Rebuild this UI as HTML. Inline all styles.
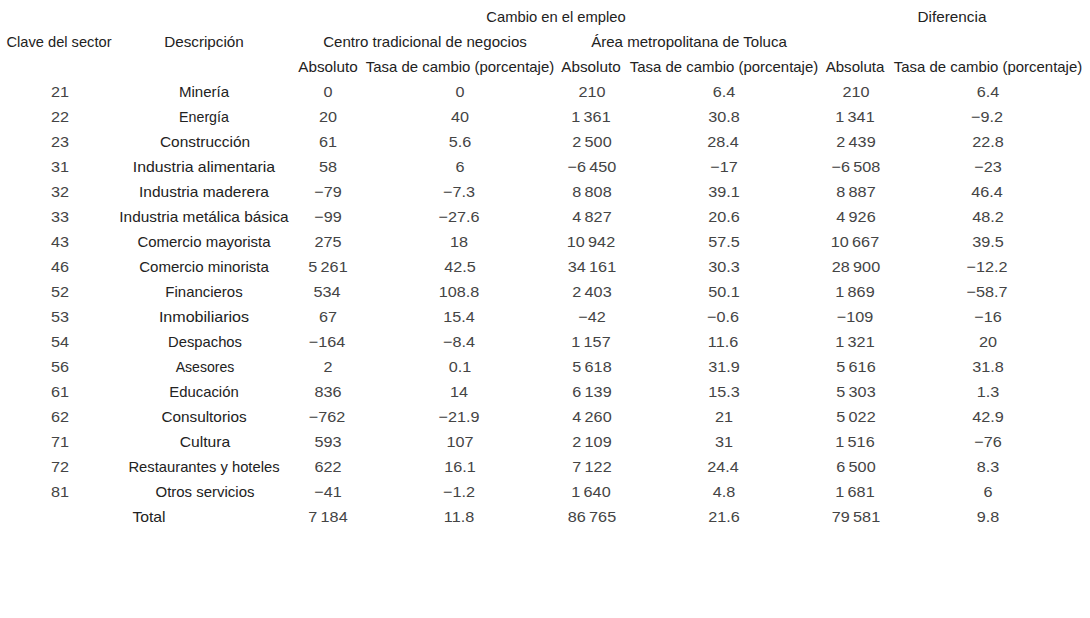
<!DOCTYPE html>
<html><head><meta charset="utf-8"><style>
html,body{margin:0;padding:0;background:#fff;width:1090px;height:618px;overflow:hidden}
body{position:relative;font-family:"Liberation Sans",sans-serif;font-size:15.0px;color:#222}
.n{color:#444}
div{position:absolute;width:500px;text-align:center;line-height:20px;white-space:nowrap;transform-origin:250px 50%}
</style></head><body>
<div style="left:306.36px;top:7px;transform:scaleX(0.9837)">Cambio en el empleo</div>
<div style="left:702.34px;top:7px;transform:scaleX(1.0194)">Diferencia</div>
<div style="left:-190.54px;top:32px;transform:scaleX(0.9766)">Clave del sector</div>
<div style="left:-45.71px;top:32px;transform:scaleX(1.0169)">Descripción</div>
<div style="left:175.10px;top:32px;transform:scaleX(1.0050)">Centro tradicional de negocios</div>
<div style="left:439.40px;top:32px;transform:scaleX(1.0041)">Área metropolitana de Toluca</div>
<div style="left:77.50px;top:57px;transform:scaleX(1.0172)">Absoluto</div>
<div style="left:210.05px;top:57px;transform:scaleX(0.9952)">Tasa de cambio (porcentaje)</div>
<div style="left:341.45px;top:57px;transform:scaleX(1.0172)">Absoluto</div>
<div style="left:474.05px;top:57px;transform:scaleX(0.9952)">Tasa de cambio (porcentaje)</div>
<div style="left:605.35px;top:57px;transform:scaleX(1.0052)">Absoluta</div>
<div style="left:738.25px;top:57px;transform:scaleX(0.9952)">Tasa de cambio (porcentaje)</div>
<div class="n" style="left:-190.40px;top:82px;transform:scaleX(1.0800)">21</div>
<div style="left:-45.70px;top:82px;transform:scaleX(1.0041)">Minería</div>
<div class="n" style="left:77.80px;top:82px;transform:scaleX(1.0800)">0</div>
<div class="n" style="left:209.70px;top:82px;transform:scaleX(1.0800)">0</div>
<div class="n" style="left:341.90px;top:82px;transform:scaleX(1.0800)">210</div>
<div class="n" style="left:473.70px;top:82px;transform:scaleX(1.0800)">6.4</div>
<div class="n" style="left:605.80px;top:82px;transform:scaleX(1.0800)">210</div>
<div class="n" style="left:737.90px;top:82px;transform:scaleX(1.0800)">6.4</div>
<div class="n" style="left:-190.40px;top:107px;transform:scaleX(1.0800)">22</div>
<div style="left:-46.15px;top:107px;transform:scaleX(0.9481)">Energía</div>
<div class="n" style="left:77.80px;top:107px;transform:scaleX(1.0800)">20</div>
<div class="n" style="left:209.70px;top:107px;transform:scaleX(1.0800)">40</div>
<div class="n" style="left:341.36px;top:107px;transform:scaleX(1.0800)">1 361</div>
<div class="n" style="left:473.70px;top:107px;transform:scaleX(1.0800)">30.8</div>
<div class="n" style="left:605.26px;top:107px;transform:scaleX(1.0800)">1 341</div>
<div class="n" style="left:737.36px;top:107px;transform:scaleX(1.0800)">−9.2</div>
<div class="n" style="left:-190.40px;top:132px;transform:scaleX(1.0800)">23</div>
<div style="left:-45.20px;top:132px;transform:scaleX(1.0302)">Construcción</div>
<div class="n" style="left:77.80px;top:132px;transform:scaleX(1.0800)">61</div>
<div class="n" style="left:209.70px;top:132px;transform:scaleX(1.0800)">5.6</div>
<div class="n" style="left:341.90px;top:132px;transform:scaleX(1.0800)">2 500</div>
<div class="n" style="left:473.16px;top:132px;transform:scaleX(1.0800)">28.4</div>
<div class="n" style="left:605.80px;top:132px;transform:scaleX(1.0800)">2 439</div>
<div class="n" style="left:737.90px;top:132px;transform:scaleX(1.0800)">22.8</div>
<div class="n" style="left:-190.40px;top:157px;transform:scaleX(1.0800)">31</div>
<div style="left:-46.25px;top:157px;transform:scaleX(1.0537)">Industria alimentaria</div>
<div class="n" style="left:77.80px;top:157px;transform:scaleX(1.0800)">58</div>
<div class="n" style="left:209.70px;top:157px;transform:scaleX(1.0800)">6</div>
<div class="n" style="left:341.90px;top:157px;transform:scaleX(1.0800)">−6 450</div>
<div class="n" style="left:473.70px;top:157px;transform:scaleX(1.0800)">−17</div>
<div class="n" style="left:605.80px;top:157px;transform:scaleX(1.0800)">−6 508</div>
<div class="n" style="left:737.90px;top:157px;transform:scaleX(1.0800)">−23</div>
<div class="n" style="left:-190.40px;top:182px;transform:scaleX(1.0800)">32</div>
<div style="left:-45.72px;top:182px;transform:scaleX(1.0320)">Industria maderera</div>
<div class="n" style="left:77.80px;top:182px;transform:scaleX(1.0800)">−79</div>
<div class="n" style="left:209.16px;top:182px;transform:scaleX(1.0800)">−7.3</div>
<div class="n" style="left:341.90px;top:182px;transform:scaleX(1.0800)">8 808</div>
<div class="n" style="left:473.70px;top:182px;transform:scaleX(1.0800)">39.1</div>
<div class="n" style="left:605.80px;top:182px;transform:scaleX(1.0800)">8 887</div>
<div class="n" style="left:737.36px;top:182px;transform:scaleX(1.0800)">46.4</div>
<div class="n" style="left:-190.40px;top:207px;transform:scaleX(1.0800)">33</div>
<div style="left:-46.23px;top:207px;transform:scaleX(1.0256)">Industria metálica básica</div>
<div class="n" style="left:77.80px;top:207px;transform:scaleX(1.0800)">−99</div>
<div class="n" style="left:209.16px;top:207px;transform:scaleX(1.0800)">−27.6</div>
<div class="n" style="left:341.90px;top:207px;transform:scaleX(1.0800)">4 827</div>
<div class="n" style="left:473.70px;top:207px;transform:scaleX(1.0800)">20.6</div>
<div class="n" style="left:605.80px;top:207px;transform:scaleX(1.0800)">4 926</div>
<div class="n" style="left:737.90px;top:207px;transform:scaleX(1.0800)">48.2</div>
<div class="n" style="left:-190.40px;top:232px;transform:scaleX(1.0800)">43</div>
<div style="left:-45.70px;top:232px;transform:scaleX(0.9985)">Comercio mayorista</div>
<div class="n" style="left:77.80px;top:232px;transform:scaleX(1.0800)">275</div>
<div class="n" style="left:209.16px;top:232px;transform:scaleX(1.0800)">18</div>
<div class="n" style="left:341.36px;top:232px;transform:scaleX(1.0800)">10 942</div>
<div class="n" style="left:473.70px;top:232px;transform:scaleX(1.0800)">57.5</div>
<div class="n" style="left:605.26px;top:232px;transform:scaleX(1.0800)">10 667</div>
<div class="n" style="left:737.90px;top:232px;transform:scaleX(1.0800)">39.5</div>
<div class="n" style="left:-190.40px;top:257px;transform:scaleX(1.0800)">46</div>
<div style="left:-45.70px;top:257px;transform:scaleX(1.0039)">Comercio minorista</div>
<div class="n" style="left:77.80px;top:257px;transform:scaleX(1.0800)">5 261</div>
<div class="n" style="left:209.70px;top:257px;transform:scaleX(1.0800)">42.5</div>
<div class="n" style="left:341.90px;top:257px;transform:scaleX(1.0800)">34 161</div>
<div class="n" style="left:473.70px;top:257px;transform:scaleX(1.0800)">30.3</div>
<div class="n" style="left:605.80px;top:257px;transform:scaleX(1.0800)">28 900</div>
<div class="n" style="left:737.36px;top:257px;transform:scaleX(1.0800)">−12.2</div>
<div class="n" style="left:-190.40px;top:282px;transform:scaleX(1.0800)">52</div>
<div style="left:-45.70px;top:282px;transform:scaleX(0.9961)">Financieros</div>
<div class="n" style="left:77.26px;top:282px;transform:scaleX(1.0800)">534</div>
<div class="n" style="left:209.16px;top:282px;transform:scaleX(1.0800)">108.8</div>
<div class="n" style="left:341.90px;top:282px;transform:scaleX(1.0800)">2 403</div>
<div class="n" style="left:473.70px;top:282px;transform:scaleX(1.0800)">50.1</div>
<div class="n" style="left:605.26px;top:282px;transform:scaleX(1.0800)">1 869</div>
<div class="n" style="left:737.36px;top:282px;transform:scaleX(1.0800)">−58.7</div>
<div class="n" style="left:-190.40px;top:307px;transform:scaleX(1.0800)">53</div>
<div style="left:-45.74px;top:307px;transform:scaleX(1.0711)">Inmobiliarios</div>
<div class="n" style="left:77.80px;top:307px;transform:scaleX(1.0800)">67</div>
<div class="n" style="left:209.16px;top:307px;transform:scaleX(1.0800)">15.4</div>
<div class="n" style="left:341.90px;top:307px;transform:scaleX(1.0800)">−42</div>
<div class="n" style="left:473.16px;top:307px;transform:scaleX(1.0800)">−0.6</div>
<div class="n" style="left:605.26px;top:307px;transform:scaleX(1.0800)">−109</div>
<div class="n" style="left:737.90px;top:307px;transform:scaleX(1.0800)">−16</div>
<div class="n" style="left:-190.40px;top:332px;transform:scaleX(1.0800)">54</div>
<div style="left:-45.20px;top:332px;transform:scaleX(0.9851)">Despachos</div>
<div class="n" style="left:77.26px;top:332px;transform:scaleX(1.0800)">−164</div>
<div class="n" style="left:209.16px;top:332px;transform:scaleX(1.0800)">−8.4</div>
<div class="n" style="left:341.36px;top:332px;transform:scaleX(1.0800)">1 157</div>
<div class="n" style="left:473.16px;top:332px;transform:scaleX(1.0800)">11.6</div>
<div class="n" style="left:605.26px;top:332px;transform:scaleX(1.0800)">1 321</div>
<div class="n" style="left:737.90px;top:332px;transform:scaleX(1.0800)">20</div>
<div class="n" style="left:-190.40px;top:357px;transform:scaleX(1.0800)">56</div>
<div style="left:-45.20px;top:357px;transform:scaleX(0.9371)">Asesores</div>
<div class="n" style="left:77.80px;top:357px;transform:scaleX(1.0800)">2</div>
<div class="n" style="left:209.70px;top:357px;transform:scaleX(1.0800)">0.1</div>
<div class="n" style="left:341.90px;top:357px;transform:scaleX(1.0800)">5 618</div>
<div class="n" style="left:473.70px;top:357px;transform:scaleX(1.0800)">31.9</div>
<div class="n" style="left:605.80px;top:357px;transform:scaleX(1.0800)">5 616</div>
<div class="n" style="left:737.90px;top:357px;transform:scaleX(1.0800)">31.8</div>
<div class="n" style="left:-190.40px;top:382px;transform:scaleX(1.0800)">61</div>
<div style="left:-45.69px;top:382px;transform:scaleX(0.9899)">Educación</div>
<div class="n" style="left:77.80px;top:382px;transform:scaleX(1.0800)">836</div>
<div class="n" style="left:209.16px;top:382px;transform:scaleX(1.0800)">14</div>
<div class="n" style="left:341.90px;top:382px;transform:scaleX(1.0800)">6 139</div>
<div class="n" style="left:473.70px;top:382px;transform:scaleX(1.0800)">15.3</div>
<div class="n" style="left:605.80px;top:382px;transform:scaleX(1.0800)">5 303</div>
<div class="n" style="left:737.90px;top:382px;transform:scaleX(1.0800)">1.3</div>
<div class="n" style="left:-190.40px;top:407px;transform:scaleX(1.0800)">62</div>
<div style="left:-45.71px;top:407px;transform:scaleX(1.0217)">Consultorios</div>
<div class="n" style="left:77.26px;top:407px;transform:scaleX(1.0800)">−762</div>
<div class="n" style="left:209.16px;top:407px;transform:scaleX(1.0800)">−21.9</div>
<div class="n" style="left:341.90px;top:407px;transform:scaleX(1.0800)">4 260</div>
<div class="n" style="left:473.70px;top:407px;transform:scaleX(1.0800)">21</div>
<div class="n" style="left:605.80px;top:407px;transform:scaleX(1.0800)">5 022</div>
<div class="n" style="left:737.90px;top:407px;transform:scaleX(1.0800)">42.9</div>
<div class="n" style="left:-190.40px;top:432px;transform:scaleX(1.0800)">71</div>
<div style="left:-45.20px;top:432px;transform:scaleX(1.0458)">Cultura</div>
<div class="n" style="left:77.80px;top:432px;transform:scaleX(1.0800)">593</div>
<div class="n" style="left:209.70px;top:432px;transform:scaleX(1.0800)">107</div>
<div class="n" style="left:341.90px;top:432px;transform:scaleX(1.0800)">2 109</div>
<div class="n" style="left:473.70px;top:432px;transform:scaleX(1.0800)">31</div>
<div class="n" style="left:605.26px;top:432px;transform:scaleX(1.0800)">1 516</div>
<div class="n" style="left:737.90px;top:432px;transform:scaleX(1.0800)">−76</div>
<div class="n" style="left:-190.40px;top:457px;transform:scaleX(1.0800)">72</div>
<div style="left:-45.69px;top:457px;transform:scaleX(0.9856)">Restaurantes y hoteles</div>
<div class="n" style="left:77.80px;top:457px;transform:scaleX(1.0800)">622</div>
<div class="n" style="left:209.70px;top:457px;transform:scaleX(1.0800)">16.1</div>
<div class="n" style="left:341.90px;top:457px;transform:scaleX(1.0800)">7 122</div>
<div class="n" style="left:473.16px;top:457px;transform:scaleX(1.0800)">24.4</div>
<div class="n" style="left:605.80px;top:457px;transform:scaleX(1.0800)">6 500</div>
<div class="n" style="left:737.90px;top:457px;transform:scaleX(1.0800)">8.3</div>
<div class="n" style="left:-190.40px;top:482px;transform:scaleX(1.0800)">81</div>
<div style="left:-45.20px;top:482px;transform:scaleX(0.9980)">Otros servicios</div>
<div class="n" style="left:77.80px;top:482px;transform:scaleX(1.0800)">−41</div>
<div class="n" style="left:209.16px;top:482px;transform:scaleX(1.0800)">−1.2</div>
<div class="n" style="left:341.36px;top:482px;transform:scaleX(1.0800)">1 640</div>
<div class="n" style="left:473.70px;top:482px;transform:scaleX(1.0800)">4.8</div>
<div class="n" style="left:605.26px;top:482px;transform:scaleX(1.0800)">1 681</div>
<div class="n" style="left:737.90px;top:482px;transform:scaleX(1.0800)">6</div>
<div style="left:-100.53px;top:507px;transform:scaleX(1.0484)">Total</div>
<div class="n" style="left:77.80px;top:507px;transform:scaleX(1.0800)">7 184</div>
<div class="n" style="left:209.16px;top:507px;transform:scaleX(1.0800)">11.8</div>
<div class="n" style="left:341.90px;top:507px;transform:scaleX(1.0800)">86 765</div>
<div class="n" style="left:473.70px;top:507px;transform:scaleX(1.0800)">21.6</div>
<div class="n" style="left:605.80px;top:507px;transform:scaleX(1.0800)">79 581</div>
<div class="n" style="left:737.90px;top:507px;transform:scaleX(1.0800)">9.8</div>
</body></html>
